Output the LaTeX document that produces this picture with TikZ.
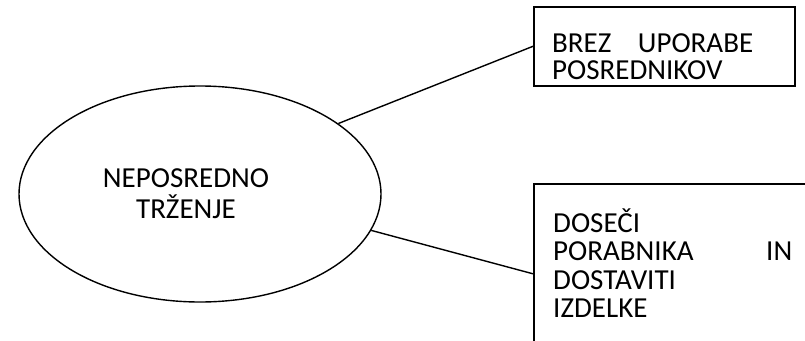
\documentclass[tikz,border=0pt]{standalone}
\usepackage{fontspec}
\setmainfont{Carlito}
\usetikzlibrary{positioning, shapes.geometric}

\tikzset{
  oval/.style={draw, ellipse, line width=1.4pt, minimum width=362pt,
               minimum height=216pt, inner sep=0pt},
  textbox/.style={draw, line width=1.6pt, anchor=north west, inner sep=0pt},
  boxtext/.style={anchor=base west, inner sep=0pt, align=left},
  link/.style={line width=1.4pt}
}

\begin{document}
\begin{tikzpicture}[x=1pt, y=-1pt]
    \useasboundingbox (0,0) rectangle (805,340);
    % central idea
    \node[oval] (trzenje) at (200,194) {};
    \node[anchor=base, inner sep=0pt, align=center, text width=220pt,
          font=\fontsize{29}{31}\selectfont] (trzenjetxt) at (186,187)
          {NEPOSREDNO\\TRŽENJE};
    % the two boxes
    \node[textbox, minimum width=261pt, minimum height=79pt] (brez) at (533,6) {};
    \node[boxtext, text width=201pt, font=\fontsize{29}{27}\selectfont]
          (breztxt) at (552,52)
          {BREZ\hfill UPORABE\\POSREDNIKOV};
    \node[textbox, minimum width=300pt, minimum height=180pt] (doseci) at (533,183) {};
    \node[boxtext, text width=239pt, font=\fontsize{29}{28.5}\selectfont]
          (doscitxt) at (553,232)
          {DOSEČI\\PORABNIKA\hfill IN\\DOSTAVITI\\IZDELKE};
    % connectors
    \draw[link] (trzenje.27) -- (brez.west);
    \draw[link] (trzenje.-12.6) -- (doseci.west);
\end{tikzpicture}
\end{document}
